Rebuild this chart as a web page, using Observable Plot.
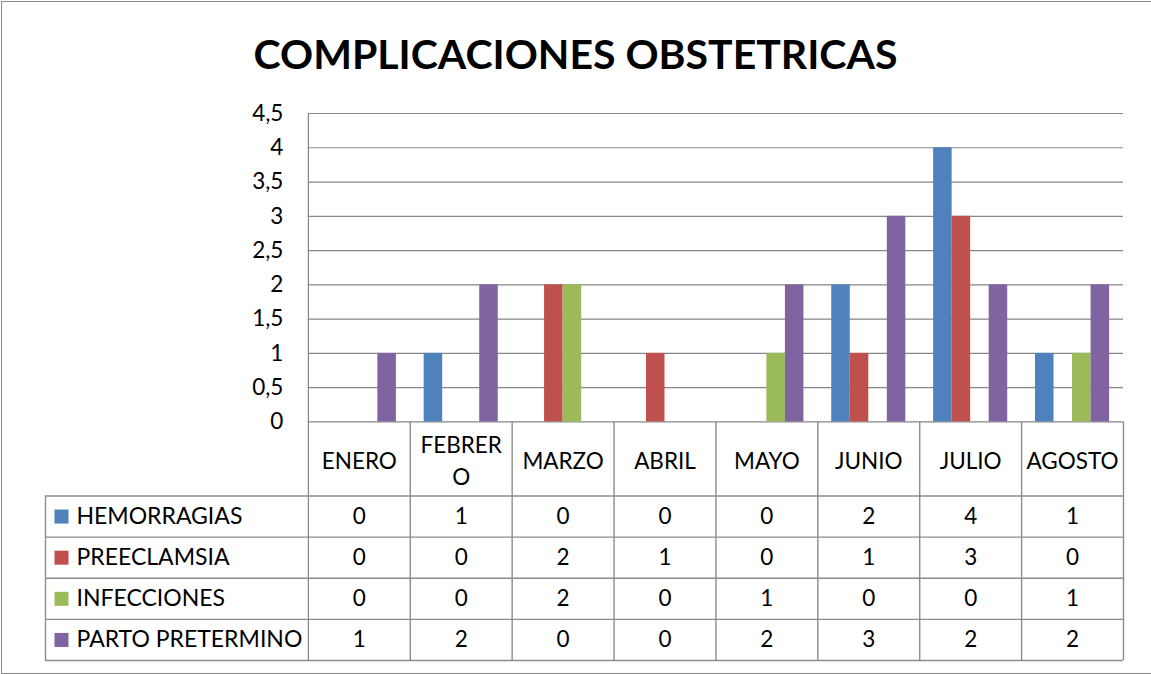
<!DOCTYPE html>
<html>
<head>
<meta charset="utf-8">
<script src="https://cdn.jsdelivr.net/npm/d3@7"></script>
<script src="https://cdn.jsdelivr.net/npm/@observablehq/plot@0.6"></script>
<style>
  html, body { margin: 0; padding: 0; background: #fff; overflow: hidden; }
  #frame { position: absolute; left: 1px; top: 1px; width: 1150px; height: 673px; box-sizing: border-box;
           border: 1px solid #8a8a8a; border-right: none; }
  #title { position: absolute; left: 0; top: 31px; width: 1151px; text-align: center;
           font-family: Lato, sans-serif; font-weight: 700; font-size: 41px; line-height: 46px; color: #000; }
  #chart { position: absolute; left: 0; top: 100px; }
</style>
</head>
<body>
<div id="frame"></div>
<div id="title">COMPLICACIONES OBSTETRICAS</div>
<div id="chart"></div>
<script>
// ---- data ----
const months = ["ENERO", "FEBRERO", "MARZO", "ABRIL", "MAYO", "JUNIO", "JULIO", "AGOSTO"];
const monthLabels = ["ENERO", "FEBRER\nO", "MARZO", "ABRIL", "MAYO", "JUNIO", "JULIO", "AGOSTO"];
const seriesNames = ["HEMORRAGIAS", "PREECLAMSIA", "INFECCIONES", "PARTO PRETERMINO"];
const hemorragias = [0, 1, 0, 0, 0, 2, 4, 1];
const preeclamsia = [0, 0, 2, 1, 0, 1, 3, 0];
const infecciones = [0, 0, 2, 0, 1, 0, 0, 1];
const partoPretermino = [1, 2, 0, 0, 2, 3, 2, 2];
const seriesColors = ["#4F81BD", "#C0504D", "#9BBB59", "#8064A2"];
const yTicks = [0, 0.5, 1, 1.5, 2, 2.5, 3, 3.5, 4, 4.5];
const yTickLabels = ["0", "0,5", "1", "1,5", "2", "2,5", "3", "3,5", "4", "4,5"];

// ---- layout helpers (in scale units) ----
const seriesValues = [hemorragias, preeclamsia, infecciones, partoPretermino];
const nS = seriesNames.length;
const gapHalf = 0.75;              // Excel gap width 150%
const slot = 1 / (nS + 2 * gapHalf);
const legendLeft = -2.58;          // legend column of the data table
const headerH = 1.08, rowH = 0.6;
const rowBounds = d3.range(nS + 1).map(k => -(headerH + k * rowH));
const tableBottom = rowBounds[nS];

const bars = [];
seriesValues.forEach((vals, s) => vals.forEach((v, i) => bars.push({
  series: seriesNames[s], month: months[i], value: v,
  x1: i + (gapHalf + s) * slot, x2: i + (gapHalf + s + 1) * slot
})));

const cells = [];
seriesValues.forEach((vals, s) => vals.forEach((v, i) => cells.push({
  x: i + 0.5, y: -(headerH + (s + 0.5) * rowH), text: String(v)
})));

const legendRows = seriesNames.map((name, s) => ({name, y: -(headerH + (s + 0.5) * rowH)}));
const headers = monthLabels.map((label, i) => ({label, x: i + 0.5, y: -headerH / 2}));

const gridColor = "#868686";
const tableColor = "#8c8c8c";

const plot = Plot.plot({
  width: 1151,
  height: 574,
  marginLeft: 45,
  marginRight: 28,
  marginTop: 13,
  marginBottom: 14,
  style: {fontFamily: "Lato, sans-serif", background: "transparent", overflow: "visible"},
  x: {domain: [legendLeft, months.length], axis: null},
  y: {domain: [tableBottom, 4.5], axis: null},
  color: {domain: seriesNames, range: seriesColors},
  marks: [
    // gridlines
    Plot.ruleY(yTicks, {y: d => d, x1: 0, x2: months.length, stroke: gridColor, strokeWidth: 1.2}),
    // y tick labels
    Plot.text(yTicks, {x: 0, y: d => d, text: (d, i) => yTickLabels[i], textAnchor: "end", dx: -25, fontSize: 22.5, fill: "#000"}),
    // bars
    Plot.rect(bars, {x1: "x1", x2: "x2", y1: 0, y2: "value", fill: "series"}),
    // axis line / table left border of month columns
    Plot.ruleX([0], {x: d => d, y1: tableBottom, y2: 4.5, stroke: gridColor, strokeWidth: 1.2}),
    // table verticals
    Plot.ruleX(d3.range(1, months.length + 1), {x: d => d, y1: tableBottom, y2: 0, stroke: tableColor, strokeWidth: 1.4}),
    Plot.ruleX([legendLeft], {x: d => d, y1: tableBottom, y2: rowBounds[0], stroke: tableColor, strokeWidth: 1.4}),
    // table horizontals
    Plot.ruleY(rowBounds, {y: d => d, x1: legendLeft, x2: months.length, stroke: tableColor, strokeWidth: 1.4}),
    // header labels
    Plot.text(headers, {x: "x", y: "y", text: "label", fontSize: 22.5, lineHeight: 1.4, fill: "#000"}),
    // legend swatches + names
    Plot.dot(legendRows, {x: legendLeft, y: "y", symbol: "square", r: 7.9, fill: "name", dx: 16}),
    Plot.text(legendRows, {x: legendLeft, y: "y", text: "name", textAnchor: "start", dx: 31, fontSize: 23, fill: "#000"}),
    // cell values
    Plot.text(cells, {x: "x", y: "y", text: "text", fontSize: 22.5, fill: "#000"})
  ]
});
document.getElementById("chart").appendChild(plot);
</script>
</body>
</html>
